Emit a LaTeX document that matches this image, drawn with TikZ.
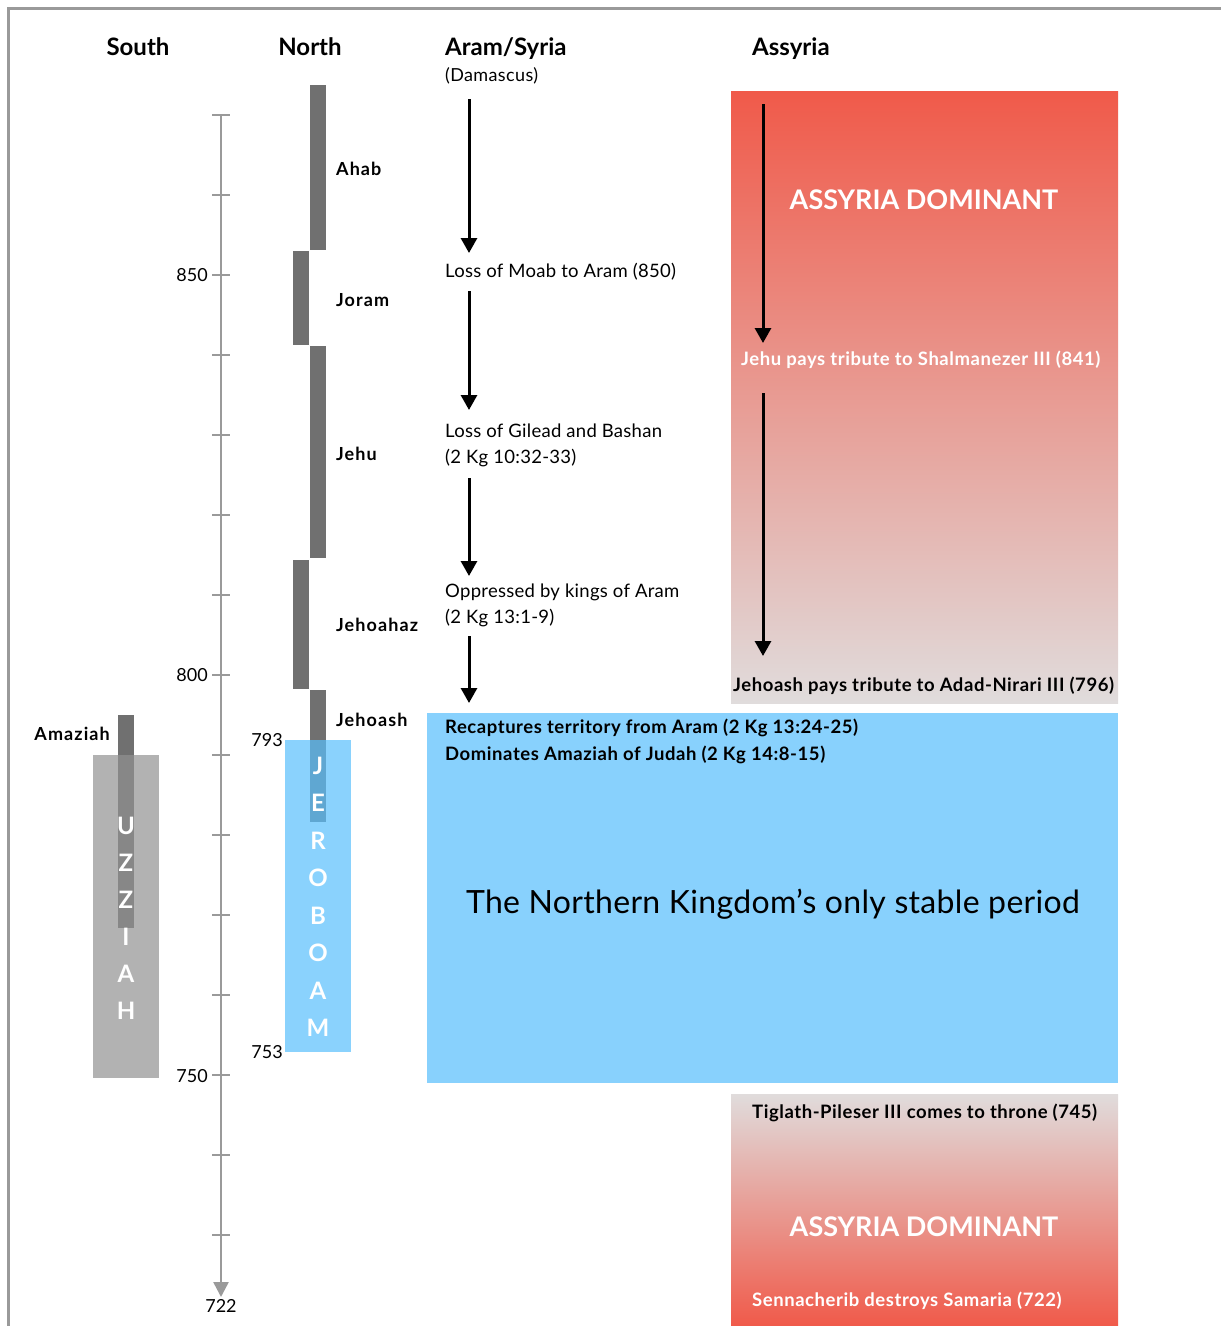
\documentclass[tikz,border=0pt]{standalone}
\usepackage{fontspec}
\setmainfont{Lato}
\usetikzlibrary{arrows.meta}
\definecolor{axisgray}{HTML}{9A9A9A}
\definecolor{kinggray}{HTML}{707070}
\definecolor{skyblue}{HTML}{88D1FD}
\definecolor{jerblue}{HTML}{58BFFC}
\definecolor{uzgray}{HTML}{929292}
\definecolor{assred}{HTML}{F05A4A}
\definecolor{asspale}{HTML}{E0DCDC}
\tikzset{
  hdr/.style={font=\fontsize{24}{28}\selectfont\bfseries, inner sep=0pt, anchor=base},
  hdrw/.style={hdr, anchor=base west},
  king/.style={font=\fontsize{18}{20}\selectfont\bfseries\addfontfeature{LetterSpace=6}, inner sep=0pt, anchor=base west},
  evt/.style={font=\fontsize{18.5}{22}\selectfont\addfontfeature{LetterSpace=1.5}, inner sep=0pt, anchor=base west},
  evtb/.style={font=\fontsize{18.5}{20}\selectfont\bfseries\addfontfeature{LetterSpace=3}, inner sep=0pt, anchor=base west},
  yr/.style={font=\fontsize{18}{22}\selectfont, inner sep=0pt, anchor=base east},
  dom/.style={font=\fontsize{27}{30}\selectfont\bfseries, text=white, inner sep=0pt, anchor=base},
  big/.style={font=\fontsize{32}{34}\selectfont\addfontfeature{LetterSpace=1}, inner sep=0pt, anchor=base},
  vletter/.style={font=\fontsize{24}{26}\selectfont\bfseries, text=white, inner sep=0pt, anchor=base},
  arr/.style={black, line width=3pt, -{Triangle[width=16pt,length=15pt]}},
  kbar/.style={fill=kinggray},
}
\begin{document}
\begin{tikzpicture}[x=1pt,y=-1pt]
\useasboundingbox (0,0) rectangle (1221,1326);
% frame
\draw[axisgray, line width=3pt] (1221,8) -- (8,8) -- (8,1326);

% headers
\node[hdr] (south) at (138,55) {South};
\node[hdr] (north) at (310,55) {North};
\node[hdrw] (aram) at (445,55) {Aram/Syria};
\node[evt, font=\fontsize{18}{20}\selectfont\addfontfeature{LetterSpace=2}] (dam) at (445,81) {(Damascus)};
\node[hdrw] (assyria) at (752,55) {Assyria};

% time axis
\coordinate (axtop) at (221,115);
\coordinate (axend) at (221,1297);
\draw[axisgray, line width=2.5pt, -{Triangle[width=15pt,length=15pt]}] (axtop) -- (axend);
\foreach \y in {115,195,...,1235} \draw[axisgray, line width=2.5pt] (212,\y) -- (230,\y);
\node[yr] (y850) at (208,281) {850};
\node[yr] (y800) at (208,681) {800};
\node[yr] (y750) at (208,1082) {750};
\node[yr] (y793) at (283,746) {793};
\node[yr] (y753) at (283,1058) {753};
\node[yr, anchor=base] (y722) at (221,1312) {722};

% Assyria boxes
\shade[top color=assred, bottom color=asspale] (731,91) rectangle (1118,703);
\shade[top color=asspale, bottom color=assred] (731,1094) rectangle (1118,1326);

% stable period box
\fill[skyblue] (427,713) rectangle (1118,1083);

% North kings bars
\fill[kbar] (310,85) rectangle (326,250);
\fill[kbar] (293,251) rectangle (309,345);
\fill[kbar] (310,346) rectangle (326,558);
\fill[kbar] (293,560) rectangle (309,689);
\fill[kbar] (310,690) rectangle (326,822);
% South: Amaziah
\fill[kbar] (118,715) rectangle (134,928);

% Uzziah / Jeroboam boxes (translucent)
\fill[uzgray, opacity=0.7] (93,755) rectangle (159,1078);
\fill[jerblue, opacity=0.7] (285,740) rectangle (351,1052);

% vertical names
\foreach \c [count=\i from 0] in {U,Z,Z,I,A,H}
  \node[vletter] (uz\i) at (126,834+37*\i) {\c};
\foreach \c [count=\i from 0] in {J,E,R,O,B,O,A,M}
  \node[vletter] (jer\i) at (318,774+37.5*\i) {\c};

% king labels
\node[king] (ahab) at (336,175) {Ahab};
\node[king] (joram) at (336,306) {Joram};
\node[king] (jehu) at (336,460) {Jehu};
\node[king] (jehoahaz) at (336,631) {Jehoahaz};
\node[king] (jehoash) at (336,726) {Jehoash};
\node[king, anchor=base east] (amaziah) at (110,740) {Amaziah};

% Aram events
\node[evt] (moab) at (445,277) {Loss of Moab to Aram (850)};
\node[evt] (gilead) at (445,437) {Loss of Gilead and Bashan};
\node[evt] (gileadref) at (445,463) {(2 Kg 10:32-33)};
\node[evt] (opp) at (445,597) {Oppressed by kings of Aram};
\node[evt] (oppref) at (445,623) {(2 Kg 13:1-9)};

\coordinate (a1s) at (469,99);  \coordinate (a1e) at (469,253);
\coordinate (a2s) at (469,291); \coordinate (a2e) at (469,410);
\coordinate (a3s) at (469,478); \coordinate (a3e) at (469,576);
\coordinate (a4s) at (469,636); \coordinate (a4e) at (469,703);
\draw[arr] (a1s) -- (a1e);
\draw[arr] (a2s) -- (a2e);
\draw[arr] (a3s) -- (a3e);
\draw[arr] (a4s) -- (a4e);

% Assyria events
\node[dom] (dom1) at (924,209) {ASSYRIA DOMINANT};
\node[evtb, text=white] (shal) at (741,365) {Jehu pays tribute to Shalmanezer III (841)};
\node[evtb] (adad) at (733,691) {Jehoash pays tribute to Adad-Nirari III (796)};
\coordinate (b1s) at (763,104); \coordinate (b1e) at (763,343);
\coordinate (b2s) at (763,393); \coordinate (b2e) at (763,656);
\draw[arr] (b1s) -- (b1e);
\draw[arr] (b2s) -- (b2e);

\node[evtb] (tig) at (752,1118) {Tiglath-Pileser III comes to throne (745)};
\node[dom] (dom2) at (924,1236) {ASSYRIA DOMINANT};
\node[evtb, text=white] (senn) at (752,1306) {Sennacherib destroys Samaria (722)};

% stable period texts
\node[evtb] (recap) at (445,733) {Recaptures territory from Aram (2 Kg 13:24-25)};
\node[evtb] (domin) at (445,760) {Dominates Amaziah of Judah (2 Kg 14:8-15)};
\node[big] (stable) at (773,913) {The Northern Kingdom’s only stable period};
\end{tikzpicture}
\end{document}
